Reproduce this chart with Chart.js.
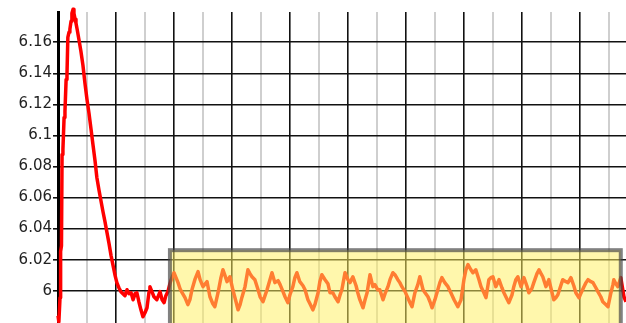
<!DOCTYPE html>
<html>
<head>
<meta charset="utf-8">
<script src="https://cdn.jsdelivr.net/npm/chart.js@4/dist/chart.umd.min.js"></script>
<style>
  html, body { margin: 0; padding: 0; background: #fff; }
  #wrap { width: 626px; height: 323px; position: relative; }
</style>
</head>
<body>
<div id="wrap"><canvas id="c"></canvas></div>
<script>
// Sample times (one unit per light grid step)
const times = [
  0.00, 0.03, 0.07, 0.09, 0.12, 0.14, 0.17, 0.21, 0.24, 0.28,
  0.31, 0.34, 0.38, 0.41, 0.45, 0.48, 0.52, 0.55, 0.59, 0.62,
  0.66, 0.72, 0.79, 0.86, 0.93, 1.00, 1.07, 1.14, 1.21, 1.28,
  1.34, 1.41, 1.48, 1.55, 1.62, 1.69, 1.76, 1.83, 1.90, 1.97,
  2.03, 2.10, 2.17, 2.24, 2.31, 2.38, 2.45, 2.52, 2.59, 2.66,
  2.72, 2.79, 2.86, 2.93, 3.00, 3.07, 3.14, 3.17, 3.24, 3.31,
  3.41, 3.52, 3.59, 3.66, 3.72, 3.79, 3.86, 3.93, 4.00, 4.07,
  4.14, 4.21, 4.28, 4.38, 4.48, 4.55, 4.62, 4.72, 4.83, 4.90,
  5.00, 5.14, 5.24, 5.34, 5.41, 5.52, 5.62, 5.69, 5.76, 5.83,
  5.93, 6.03, 6.14, 6.21, 6.28, 6.34, 6.45, 6.55, 6.62, 6.69,
  6.79, 6.90, 6.97, 7.07, 7.14, 7.21, 7.31, 7.38, 7.48, 7.59,
  7.66, 7.76, 7.83, 7.93, 8.00, 8.10, 8.17, 8.24, 8.34, 8.45,
  8.52, 8.62, 8.69, 8.79, 8.86, 8.97, 9.03, 9.10, 9.21, 9.31,
  9.38, 9.48, 9.55, 9.66, 9.72, 9.79, 9.90, 10.00, 10.07, 10.17,
  10.28, 10.34, 10.41, 10.52, 10.59, 10.66, 10.76, 10.86, 10.93, 11.03,
  11.10, 11.21, 11.28, 11.38, 11.45, 11.55, 11.62, 11.72, 11.79, 11.86,
  11.97, 12.03, 12.14, 12.21, 12.31, 12.41, 12.48, 12.59, 12.66, 12.76,
  12.83, 12.90, 13.00, 13.07, 13.17, 13.24, 13.34, 13.45, 13.55, 13.66,
  13.79, 13.90, 14.00, 14.07, 14.14, 14.24, 14.31, 14.41, 14.52, 14.59,
  14.69, 14.76, 14.86, 14.93, 15.00, 15.10, 15.21, 15.31, 15.38, 15.48,
  15.55, 15.66, 15.72, 15.79, 15.86, 15.97, 16.07, 16.17, 16.24, 16.34,
  16.41, 16.52, 16.59, 16.66, 16.72, 16.83, 16.93, 17.03, 17.10, 17.17,
  17.24, 17.34, 17.41, 17.52, 17.59, 17.69, 17.79, 17.86, 17.97, 18.03,
  18.14, 18.21, 18.28, 18.38, 18.45, 18.55, 18.62, 18.72, 18.79, 18.90,
  18.97, 19.07, 19.14, 19.17, 19.24, 19.31, 19.41, 19.48, 19.52, 19.59
];

// Measured signal level at each sample time
const levels = [
  5.9839, 5.9800, 5.9955, 6.0252, 6.0290, 6.0877, 6.0910, 6.1116, 6.1155, 6.1361,
  6.1394, 6.1632, 6.1665, 6.1684, 6.1735, 6.1787, 6.1813, 6.1787, 6.1748, 6.1723,
  6.1684, 6.1619, 6.1542, 6.1452, 6.1335, 6.1232, 6.1142, 6.1039, 6.0935, 6.0832,
  6.0729, 6.0652, 6.0581, 6.0510, 6.0445, 6.0374, 6.0303, 6.0226, 6.0161, 6.0097,
  6.0052, 6.0019, 5.9994, 5.9981, 5.9968, 6.0006, 5.9981, 5.9987, 5.9942, 5.9981,
  5.9987, 5.9929, 5.9877, 5.9832, 5.9858, 5.9890, 5.9994, 6.0026, 5.9994, 5.9961,
  5.9942, 5.9994, 5.9942, 5.9923, 5.9968, 5.9994, 6.0045, 6.0084, 6.0116, 6.0084,
  6.0052, 6.0013, 5.9987, 5.9955, 5.9910, 5.9942, 6.0006, 6.0071, 6.0123, 6.0071,
  6.0026, 6.0058, 5.9961, 5.9916, 5.9897, 5.9987, 6.0084, 6.0135, 6.0097, 6.0058,
  6.0090, 6.0006, 5.9929, 5.9877, 5.9910, 5.9955, 6.0026, 6.0135, 6.0110, 6.0090,
  6.0071, 6.0006, 5.9961, 5.9929, 5.9968, 6.0006, 6.0071, 6.0116, 6.0052, 6.0065,
  6.0039, 5.9994, 5.9961, 5.9923, 5.9974, 6.0026, 6.0084, 6.0116, 6.0058, 6.0032,
  6.0006, 5.9942, 5.9916, 5.9877, 5.9910, 5.9987, 6.0058, 6.0103, 6.0071, 6.0045,
  5.9987, 5.9987, 5.9961, 5.9929, 5.9968, 6.0006, 6.0116, 6.0071, 6.0052, 6.0090,
  6.0032, 5.9987, 5.9942, 5.9890, 5.9942, 5.9987, 6.0103, 6.0026, 6.0039, 6.0006,
  6.0006, 5.9942, 5.9981, 6.0026, 6.0071, 6.0116, 6.0103, 6.0071, 6.0052, 6.0026,
  5.9994, 5.9968, 5.9923, 5.9897, 5.9987, 6.0039, 6.0090, 6.0006, 5.9987, 5.9961,
  5.9929, 5.9890, 5.9942, 5.9987, 6.0052, 6.0084, 6.0052, 6.0026, 5.9987, 5.9942,
  5.9897, 5.9942, 6.0071, 6.0135, 6.0168, 6.0135, 6.0116, 6.0135, 6.0071, 6.0026,
  5.9987, 5.9955, 6.0071, 6.0084, 6.0090, 6.0026, 6.0071, 6.0019, 5.9987, 5.9948,
  5.9923, 5.9974, 6.0026, 6.0071, 6.0090, 6.0026, 6.0084, 6.0032, 5.9987, 6.0013,
  6.0052, 6.0110, 6.0135, 6.0110, 6.0090, 6.0026, 6.0071, 5.9994, 5.9942, 5.9955,
  5.9974, 6.0032, 6.0071, 6.0058, 6.0052, 6.0084, 6.0032, 5.9987, 5.9955, 5.9981,
  6.0026, 6.0052, 6.0071, 6.0058, 6.0052, 6.0019, 5.9994, 5.9961, 5.9929, 5.9910,
  5.9897, 5.9987, 6.0039, 6.0071, 6.0045, 6.0026, 6.0084, 6.0006, 5.9961, 5.9929
];

// Value axis ticks and their printed labels
const yTickValues = [6.00, 6.02, 6.04, 6.06, 6.08, 6.10, 6.12, 6.14, 6.16];
const yTickLabels = ['6', '6.02', '6.04', '6.06', '6.08', '6.1', '6.12', '6.14', '6.16'];

// Axis ranges
const timeRange = [0, 19.59];
const levelRange = [5.9792, 6.1795];

// Highlighted steady-state window
const windowFrom = 3.86;
const windowTo = 19.41;
const windowTop = 6.0261;

const points = times.map((t, i) => ({ x: t, y: levels[i] }));

const highlightWindow = {
  id: 'highlightWindow',
  afterDatasetsDraw(chart) {
    const { ctx, scales: { x, y } } = chart;
    const left = x.getPixelForValue(windowFrom);
    const right = x.getPixelForValue(windowTo);
    const top = y.getPixelForValue(windowTop);
    const bottom = chart.height + 10;
    ctx.save();
    ctx.fillStyle = 'rgba(255, 240, 96, 0.52)';
    ctx.fillRect(left, top, right - left, bottom - top);
    ctx.strokeStyle = 'rgba(70, 70, 70, 0.68)';
    ctx.lineWidth = 4;
    ctx.strokeRect(left, top, right - left, bottom - top);
    ctx.restore();
  }
};

new Chart(document.getElementById('c'), {
  type: 'line',
  data: {
    datasets: [{
      data: points,
      borderColor: '#ff0000',
      borderWidth: 3.5,
      pointRadius: 0,
      tension: 0,
      borderJoinStyle: 'round',
      clip: false
    }]
  },
  options: {
    responsive: true,
    maintainAspectRatio: false,
    devicePixelRatio: 1,
    animation: false,
    layout: { padding: { top: 12, left: 0, right: 0, bottom: 0 } },
    plugins: { legend: { display: false }, tooltip: { enabled: false } },
    scales: {
      x: {
        type: 'linear',
        min: timeRange[0],
        max: timeRange[1],
        ticks: { display: false, stepSize: 1, includeBounds: false },
        border: { display: false },
        grid: {
          drawTicks: false,
          color: (c) => (Math.round(c.tick.value) % 2 === 0 ? '#111' : '#cfcfcf'),
          lineWidth: (c) => (Math.round(c.tick.value) % 2 === 0 ? 1.6 : 2)
        }
      },
      y: {
        type: 'linear',
        min: levelRange[0],
        max: levelRange[1],
        afterBuildTicks: (scale) => {
          scale.ticks = yTickValues.map(v => ({ value: v }));
        },
        afterFit: (scale) => {
          scale.width = 58;
          scale.paddingTop = 0;
          scale.paddingBottom = 0;
        },
        ticks: {
          padding: 1,
          color: '#222',
          font: { family: 'DejaVu Sans', size: 15 },
          callback: (value) => {
            const i = yTickValues.findIndex(v => Math.abs(v - value) < 1e-6);
            return i >= 0 ? yTickLabels[i] : '';
          }
        },
        border: { display: true, color: '#000', width: 3 },
        grid: { color: '#111', lineWidth: 1.6, tickLength: 5 }
      }
    }
  },
  plugins: [highlightWindow]
});
</script>
</body>
</html>
